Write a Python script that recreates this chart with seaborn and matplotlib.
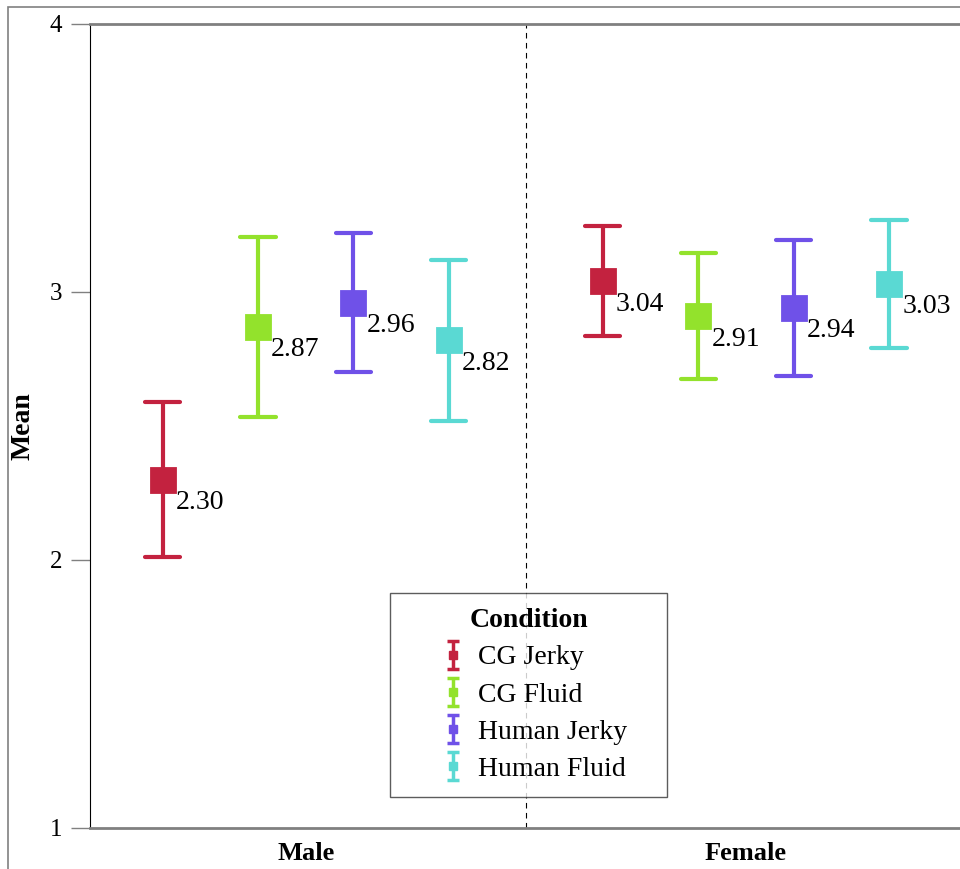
import numpy as np
import pandas as pd
import matplotlib
matplotlib.use("Agg")
import matplotlib.pyplot as plt
from matplotlib.patches import Rectangle
import seaborn as sns


# ---- data ----
sexes = ["Male", "Female"]
conditions = ["CG Jerky", "CG Fluid", "Human Jerky", "Human Fluid"]
colors = ["#C3223F", "#93E22C", "#6F51E8", "#5AD9D3"]

male_means = [2.30, 2.87, 2.96, 2.82]
female_means = [3.04, 2.91, 2.94, 3.03]
# half-width of the error bars
male_err = [0.29, 0.335, 0.26, 0.30]
female_err = [0.205, 0.235, 0.255, 0.24]

# long table: lower and upper end of each bar, so mean = centre and
# the 100% percentile interval = the bar itself
rows = []
for sex, means, errs in [("Male", male_means, male_err), ("Female", female_means, female_err)]:
    for cond, m, e in zip(conditions, means, errs):
        rows.append({"Sex": sex, "Condition": cond, "Mean": m - e})
        rows.append({"Sex": sex, "Condition": cond, "Mean": m + e})
df = pd.DataFrame(rows)

sns.set_style("white")
plt.rcParams["font.family"] = ["Liberation Serif", "DejaVu Serif"]
plt.rcParams["text.color"] = "black"
plt.rcParams["axes.labelcolor"] = "black"

fig = plt.figure(figsize=(9.6, 8.69), dpi=100)
ax = fig.add_axes([90 / 960, 41 / 869, 876 / 960, 804 / 869])

DODGE = 0.65
sns.pointplot(
    data=df, x="Sex", y="Mean", hue="Condition",
    order=sexes, hue_order=conditions, palette=colors,
    estimator="mean", errorbar=("pi", 100),
    dodge=DODGE, linestyle="none", markers="s", markersize=17,
    capsize=0.08, err_kws={"linewidth": 3},
    legend=False, ax=ax,
)

# value labels next to each marker
offsets = np.linspace(-DODGE / 2, DODGE / 2, len(conditions))
for i, means in enumerate([male_means, female_means]):
    for j, m in enumerate(means):
        ax.annotate(f"{m:.2f}", (i + offsets[j], m), xytext=(9.5, -16.5),
                    textcoords="offset points", ha="left", va="center",
                    fontsize=20, color="black")

ax.axvline(0.5, color="black", lw=0.8, ls=(0, (5, 4)), zorder=0)

ax.set_ylim(1, 4)
ax.set_xlim(-0.49, 1.5)
ax.set_yticks([1, 2, 3, 4])
ax.set_yticklabels(["1", "2", "3", "4"], fontsize=18)
ax.set_xticks([0, 1])
ax.set_xticklabels(sexes, fontsize=19, fontweight="bold")
ax.set_xlabel("")
ax.set_ylabel("Mean", fontsize=20, fontweight="bold", labelpad=10)

ax.tick_params(axis="y", length=14, width=1, color="#808080",
               labelcolor="black", pad=6, left=True)
ax.tick_params(axis="x", length=0, pad=10, labelcolor="black")

for side in ["top", "bottom"]:
    ax.spines[side].set_color("#808080")
    ax.spines[side].set_linewidth(2)
ax.spines["left"].set_color("black")
ax.spines["left"].set_linewidth(0.8)
ax.spines["right"].set_visible(False)

# legend with error-bar glyphs
handles = []
for cond, c in zip(conditions, colors):
    h = ax.errorbar([np.nan], [np.nan], yerr=[0.1], fmt="s", color=c,
                    markersize=6, elinewidth=2.5, capsize=4, capthick=2.5,
                    label=cond)
    handles.append(h)
leg = ax.legend(handles=handles, title="Condition", loc="lower left",
                bbox_to_anchor=(300 / 876, 31 / 804, 277 / 876, 0.2),
                mode="expand", fontsize=20, title_fontsize=20,
                frameon=True, fancybox=False, edgecolor="#333333",
                handlelength=3.45, handletextpad=-0.85, labelspacing=0.42,
                borderpad=0.55, borderaxespad=0)
leg.get_title().set_fontweight("bold")
leg.get_frame().set_linewidth(1)

# outer frame, cut by the image edge on the right and bottom
fig.add_artist(Rectangle((8 / 960, -0.1), 1.2, 1 - 7 / 869 + 0.1, fill=False,
                         edgecolor="#808080", lw=1.2,
                         transform=fig.transFigure))

fig.savefig("out.png", dpi=100)
